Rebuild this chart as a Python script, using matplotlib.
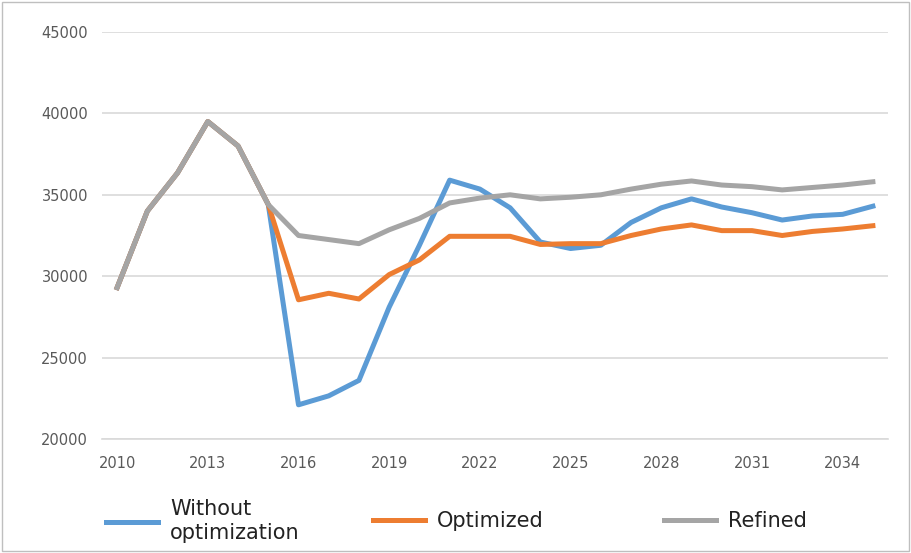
import matplotlib.pyplot as plt

years = list(range(2010, 2036))

without_opt = [29300, 34000, 36350, 39500, 38000, 34400, 22100, 22650, 23600, 28100,
               31900, 35900, 35350, 34200, 32100, 31700, 31900, 33300, 34200, 34750,
               34250, 33900, 33450, 33700, 33800, 34300]
optimized = [29300, 34000, 36350, 39500, 38000, 34400, 28550, 28950, 28600, 30100,
             31000, 32450, 32450, 32450, 31950, 32000, 32000, 32500, 32900, 33150,
             32800, 32800, 32500, 32750, 32900, 33100]
refined = [29300, 34000, 36350, 39500, 38000, 34400, 32500, 32250, 32000, 32850,
           33550, 34500, 34800, 35000, 34750, 34850, 35000, 35350, 35650, 35850,
           35600, 35500, 35300, 35450, 35600, 35800]

labels = ["Without\noptimization", "Optimized", "Refined"]
colors = ["#5B9BD5", "#ED7D31", "#A5A5A5"]

fig = plt.figure(figsize=(9.12, 5.53), dpi=100)
# axes spans pixels x 102..888, y 32..439
ax = fig.add_axes([102 / 912, 1 - 439 / 553, 786 / 912, 407 / 553])

x = list(range(len(years)))
lines = []
for vals, c in zip([without_opt, optimized, refined], colors):
    ln, = ax.plot(x, vals, color=c, linewidth=3.6, solid_joinstyle='round')
    lines.append(ln)

ax.set_xlim(-0.5, len(years) - 0.5)
ax.set_ylim(20000, 45000)
ax.set_yticks(range(20000, 45001, 5000))
ax.set_xticks(x[::3])
ax.set_xticklabels([str(y) for y in years[::3]])
ax.grid(axis='y', color='#D9D9D9', linewidth=1.2)
ax.set_axisbelow(True)
for s in ['top', 'right', 'left']:
    ax.spines[s].set_visible(False)
ax.spines['bottom'].set_color('#D9D9D9')
ax.spines['bottom'].set_linewidth(1.2)
ax.tick_params(length=0, labelsize=10.5, labelcolor='#595959')
ax.tick_params(axis='y', pad=10)
ax.tick_params(axis='x', pad=12)

# legend entries placed individually along the bottom
lx = [87, 354, 645]
for ln, lab, px in zip(lines, labels, lx):
    fig.legend([ln], [lab], loc='center left', bbox_to_anchor=(px / 912, 1 - 521 / 553),
               frameon=False, fontsize=15, handlelength=2.5, handletextpad=0.6,
               labelcolor='#222222')

# light frame round the chart
fig.patches.append(plt.Rectangle((0.002, 0.003), 0.995, 0.994, transform=fig.transFigure,
                                 fill=False, edgecolor='#BFBFBF', linewidth=1))

fig.savefig('out.png', dpi=100)
